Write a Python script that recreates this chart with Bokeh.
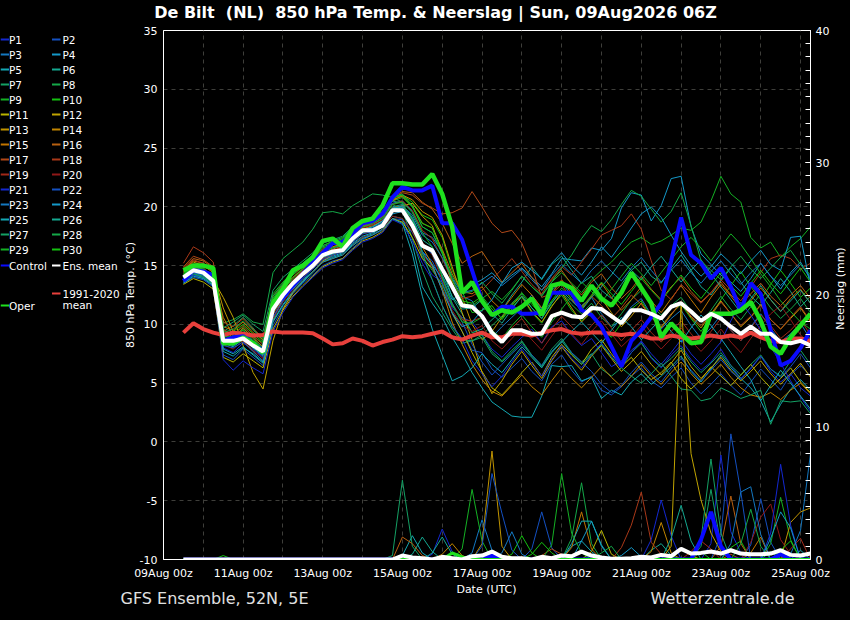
from math import pi
from bokeh.plotting import figure
from bokeh.models import Range1d, LinearAxis, FixedTicker, SingleIntervalTicker
from bokeh.layouts import column, row
from bokeh.core.properties import value
from bokeh.embed import file_html
from bokeh.resources import INLINE

# ---------------- data ----------------
# lead time in hours after 09Aug 00z (6-hourly)
hours = [12, 18, 24, 30, 36, 42, 48, 54, 60, 66, 72, 78, 84, 90, 96, 102,
         108, 114, 120, 126, 132, 138, 144, 150, 156, 162, 168, 174, 180, 186, 192, 198,
         204, 210, 216, 222, 228, 234, 240, 246, 252, 258, 264, 270, 276, 282, 288, 294,
         300, 306, 312, 318, 324, 330, 336, 342, 348, 354, 360, 366, 372, 378, 384, 390]

tick_hours = [0, 48, 96, 144, 192, 240, 288, 336, 384]
tick_labels = ["09Aug 00z", "11Aug 00z", "13Aug 00z", "15Aug 00z", "17Aug 00z",
               "19Aug 00z", "21Aug 00z", "23Aug 00z", "25Aug 00z"]
day_hours = [0, 24, 48, 72, 96, 120, 144, 168, 192, 216, 240, 264, 288, 312, 336, 360, 384]
temp_ticks = [-10, -5, 0, 5, 10, 15, 20, 25, 30, 35]
temp_tick_labels = ["-10", "-5", "0", "5", "10", "15", "20", "25", "30", "35"]

# 850 hPa temperature (deg C)
control_t = [13.7, 14.6, 14.5, 14.2, 8.6, 8.9, 9.0, 8.3, 7.8, 11.5, 12.3, 13.3, 14.3, 15.3, 16.1, 16.9,
             17.0, 17.7, 18.6, 18.8, 19.4, 20.8, 21.7, 21.4, 21.4, 21.8, 18.6, 18.6, 17.2, 14.6, 12.0, 10.8,
             11.5, 11.5, 10.9, 10.9, 11.0, 12.7, 12.7, 12.7, 11.2, 10.8, 9.8, 8.1, 6.4, 8.6, 9.5, 10.6,
             11.8, 15.4, 19.1, 15.9, 15.2, 13.9, 14.8, 13.2, 11.2, 13.5, 12.6, 9.5, 6.5, 6.9, 8.0, 9.5]
oper_t = [14.6, 15.0, 15.0, 14.8, 8.4, 8.4, 8.9, 8.4, 7.6, 11.8, 13.0, 14.6, 15.0, 15.7, 17.1, 17.3,
          16.6, 18.2, 18.8, 19.0, 20.1, 22.0, 22.0, 21.9, 21.9, 22.8, 21.1, 18.3, 12.7, 13.6, 12.0, 10.8,
          11.2, 11.0, 11.5, 12.2, 10.8, 13.3, 13.5, 13.1, 12.0, 13.3, 12.2, 11.6, 12.7, 14.4, 13.1, 11.8,
          8.9, 10.1, 9.2, 8.4, 8.5, 10.9, 10.9, 10.9, 11.2, 11.9, 10.3, 8.1, 7.5, 8.9, 9.9, 10.9]
ensmean_t = [14.0, 14.6, 14.4, 13.7, 8.6, 8.6, 8.8, 8.2, 7.7, 11.3, 12.5, 13.5, 14.3, 15.0, 15.9, 16.2,
             16.3, 17.3, 18.0, 18.0, 18.4, 19.7, 19.7, 18.4, 16.7, 16.3, 14.7, 13.2, 11.6, 11.5, 10.7, 9.3,
             8.5, 9.5, 9.5, 9.2, 9.2, 10.7, 11.0, 10.7, 10.6, 11.4, 11.3, 10.7, 10.1, 11.2, 11.2, 10.9,
             10.5, 11.5, 11.8, 11.1, 10.3, 10.9, 10.5, 9.8, 9.2, 9.8, 9.2, 9.2, 8.5, 8.4, 8.6, 8.2]
clim_t = [9.3, 10.1, 9.6, 9.3, 9.1, 9.3, 9.2, 9.05, 9.1, 9.4, 9.3, 9.3, 9.3, 9.25, 8.8, 8.3,
          8.4, 8.8, 8.6, 8.2, 8.5, 8.7, 9.0, 8.9, 9.0, 9.2, 9.4, 8.9, 8.7, 9.05, 9.3, 8.9,
          8.9, 9.2, 9.2, 9.05, 9.3, 9.5, 9.6, 9.3, 9.2, 9.3, 9.3, 9.2, 9.1, 9.2, 9.05, 8.8,
          8.8, 9.05, 8.9, 8.8, 8.9, 9.05, 8.9, 9.05, 8.9, 9.3, 8.9, 8.6, 8.5, 8.8, 8.8, 8.6]

p01_t = [13.8, 14.4, 14.1, 13.5, 8.0, 7.6, 8.4, 7.9, 7.2, 10.6, 12.0, 13.1, 13.9, 14.8, 15.6, 16.0,
         16.4, 17.2, 17.9, 18.1, 18.6, 19.8, 19.9, 18.6, 15.6, 14.2, 13.6, 11.4, 10.6, 10.2, 9.1, 7.9,
         7.2, 8.1, 8.9, 9.6, 8.4, 9.8, 10.3, 9.1, 8.2, 8.8, 7.6, 6.4, 6.9, 7.8, 8.5, 7.1,
         6.3, 7.4, 8.2, 7.0, 6.1, 6.8, 7.9, 6.5, 5.4, 6.2, 7.3, 6.0, 5.1, 5.8, 4.6, 3.9]
p02_t = [13.5, 14.0, 13.8, 13.2, 7.4, 7.0, 7.9, 7.2, 6.5, 9.9, 11.4, 12.6, 13.5, 14.2, 15.0, 15.4,
         15.6, 16.5, 17.2, 17.6, 18.0, 19.0, 18.9, 17.8, 16.2, 15.4, 13.6, 10.9, 9.4, 7.8, 7.6, 6.2,
         5.5, 6.3, 7.1, 6.0, 5.2, 6.6, 7.4, 6.1, 5.1, 5.6, 4.4, 4.0, 4.7, 5.6, 6.3, 5.2,
         4.6, 5.5, 6.3, 5.0, 4.1, 4.9, 5.8, 4.8, 4.0, 5.1, 6.2, 5.3, 4.4, 5.7, 6.5, 5.6]
p03_t = [14.2, 14.9, 14.6, 13.9, 9.1, 8.7, 9.3, 8.6, 8.0, 11.6, 12.8, 13.7, 14.5, 15.3, 16.1, 16.5,
         16.8, 17.6, 18.3, 18.5, 19.0, 20.3, 20.5, 19.6, 17.8, 17.4, 16.2, 13.8, 12.4, 12.0, 10.6, 8.9,
         9.8, 10.6, 11.4, 12.5, 11.3, 12.9, 13.6, 12.4, 11.6, 12.3, 10.9, 9.8, 10.4, 11.5, 12.2, 10.8,
         9.6, 10.5, 11.2, 9.9, 8.8, 9.7, 10.8, 9.5, 8.6, 9.8, 10.9, 9.7, 8.5, 9.2, 10.1, 8.7]
p04_t = [13.6, 14.2, 14.0, 13.4, 8.4, 8.1, 8.7, 8.0, 7.3, 10.9, 12.1, 13.0, 13.8, 14.5, 15.4, 15.8,
         16.1, 16.9, 17.5, 17.8, 18.3, 19.4, 19.6, 18.2, 16.0, 15.1, 13.9, 12.1, 12.6, 13.4, 13.8, 14.4,
         13.5, 14.2, 14.8, 14.0, 13.2, 14.3, 15.6, 15.5, 15.4, 16.5, 16.3, 17.3, 19.9, 21.2, 21.0, 18.8,
         20.1, 22.4, 22.6, 18.3, 16.0, 15.1, 14.2, 13.6, 12.8, 13.9, 15.2, 14.1, 13.0, 14.4, 15.3, 13.8]
p05_t = [13.9, 14.5, 14.2, 13.6, 7.7, 7.3, 8.0, 7.5, 6.8, 10.2, 11.6, 12.7, 13.6, 14.4, 15.3, 15.7,
         16.0, 16.8, 17.4, 17.7, 18.3, 19.2, 19.0, 16.8, 13.2, 11.8, 10.6, 8.9, 7.5, 5.9, 4.6, 3.4,
         2.8, 2.2, 2.1, 2.1, 3.9, 6.5, 6.4, 6.5, 5.2, 5.5, 3.7, 4.4, 4.0, 5.1, 5.8, 4.9,
         5.6, 6.4, 7.3, 6.0, 5.1, 6.2, 7.4, 6.3, 5.4, 4.6, 3.5, 1.7, 3.2, 4.5, 5.3, 4.4]
p06_t = [14.1, 14.8, 14.5, 13.8, 8.9, 8.5, 9.1, 8.3, 7.7, 11.4, 12.7, 13.6, 14.4, 15.1, 15.9, 16.2,
         16.5, 17.4, 18.1, 18.3, 18.8, 20.0, 20.2, 19.1, 17.2, 16.6, 14.8, 12.3, 10.9, 9.3, 9.6, 10.4,
         11.2, 12.5, 13.6, 14.9, 13.8, 15.1, 15.8, 14.6, 13.5, 14.1, 12.9, 12.2, 13.4, 14.6, 15.3, 14.1,
         13.5, 14.8, 15.9, 14.6, 13.2, 12.5, 13.7, 14.8, 13.6, 12.4, 11.6, 12.7, 13.9, 12.8, 11.5, 12.4]
p07_t = [13.7, 14.3, 14.1, 13.5, 9.4, 9.9, 10.6, 9.7, 8.6, 12.2, 13.4, 14.3, 15.1, 15.8, 16.6, 16.9,
         17.2, 18.1, 18.7, 18.9, 19.3, 20.2, 19.7, 17.3, 14.6, 12.4, 11.0, 9.6, 8.4, 8.6, 9.1, 7.7,
         6.9, 7.8, 8.6, 7.4, 6.5, 7.9, 8.8, 7.6, 6.8, 7.5, 6.2, 5.6, 6.3, 7.6, 8.4, 7.2,
         6.4, 7.1, 8.0, 6.8, 5.9, 6.7, 7.6, 6.5, 5.7, 6.6, 7.4, 6.2, 5.6, 6.9, 7.8, 6.6]
p08_t = [14.4, 15.1, 14.9, 14.6, 10.1, 10.4, 10.9, 10.2, 10.0, 14.4, 15.6, 16.3, 17.0, 18.1, 19.5, 19.6,
         19.4, 20.1, 20.6, 21.1, 21.0, 20.8, 20.4, 18.2, 15.8, 14.6, 13.4, 11.6, 10.5, 9.3, 9.1, 9.9,
         10.7, 11.8, 12.6, 11.4, 10.5, 11.9, 12.8, 11.7, 10.9, 11.8, 10.6, 9.8, 10.9, 12.1, 12.9, 11.6,
         10.8, 11.6, 12.3, 11.1, 10.2, 11.2, 12.4, 11.3, 10.4, 11.5, 12.6, 11.4, 10.5, 11.3, 12.2, 11.0]
p09_t = [13.9, 14.6, 14.3, 13.7, 8.7, 8.8, 9.6, 8.9, 8.1, 11.8, 13.0, 14.0, 14.8, 15.6, 16.3, 16.6,
         16.8, 17.7, 18.4, 18.7, 19.1, 20.5, 20.8, 20.0, 18.3, 17.8, 16.1, 13.4, 11.8, 11.6, 12.2, 12.8,
         12.1, 13.0, 14.1, 13.2, 12.5, 13.6, 14.4, 13.5, 12.7, 13.8, 14.6, 15.3, 16.2, 17.0, 17.4, 16.8,
         17.1, 17.6, 18.2, 18.0, 18.7, 20.5, 22.6, 21.1, 20.4, 17.4, 16.5, 17.0, 15.7, 16.6, 17.3, 18.3]
p10_t = [14.3, 14.9, 14.8, 14.1, 9.0, 9.2, 9.8, 9.0, 8.4, 12.6, 13.6, 14.5, 15.2, 15.9, 16.7, 17.0,
         17.3, 18.2, 18.8, 19.0, 19.5, 20.8, 21.0, 20.4, 19.3, 18.9, 17.4, 14.6, 12.8, 11.0, 11.2, 11.6,
         10.4, 11.5, 12.3, 11.0, 10.1, 11.6, 12.5, 11.2, 10.3, 11.0, 9.6, 8.9, 10.1, 11.3, 12.0, 10.7,
         9.8, 10.9, 11.7, 10.5, 9.4, 10.6, 12.1, 13.3, 14.5, 13.2, 12.1, 13.4, 14.6, 13.5, 12.3, 13.1]
p11_t = [13.4, 13.9, 13.6, 13.0, 7.2, 6.8, 7.5, 6.9, 6.3, 9.6, 11.2, 12.4, 13.3, 14.1, 14.9, 15.3,
         15.6, 16.4, 17.1, 17.4, 17.9, 19.0, 18.7, 17.4, 15.6, 14.8, 13.1, 11.0, 9.4, 7.6, 6.0, 4.6,
         4.0, 4.9, 5.9, 6.8, 5.6, 7.2, 8.3, 7.4, 6.6, 7.9, 8.7, 7.5, 6.4, 7.2, 6.1, 5.3,
         5.9, 6.8, 5.4, 4.5, 5.3, 6.4, 5.6, 4.8, 5.7, 6.6, 5.5, 4.6, 5.4, 6.3, 5.1, 4.2]
p12_t = [14.0, 14.6, 14.3, 13.8, 12.3, 10.6, 8.2, 5.9, 4.5, 8.6, 11.3, 12.7, 13.7, 14.5, 15.4, 15.9,
         16.3, 17.1, 17.8, 18.0, 18.5, 19.7, 20.1, 20.3, 19.2, 18.4, 16.2, 13.5, 11.0, 8.7, 5.9, 4.1,
         5.2, 6.6, 7.7, 6.5, 5.4, 6.9, 8.1, 7.0, 6.1, 7.3, 8.2, 7.1, 6.0, 6.8, 7.7, 6.6,
         5.7, 6.7, 7.8, 6.4, 5.4, 6.3, 7.2, 6.1, 5.2, 6.0, 6.9, 5.8, 4.9, 5.8, 6.7, 5.5]
p13_t = [14.5, 15.3, 15.0, 14.4, 11.4, 9.4, 8.6, 7.7, 6.9, 10.4, 12.2, 13.4, 14.2, 15.0, 15.8, 16.2,
         16.6, 17.5, 18.3, 18.6, 19.2, 20.5, 21.0, 20.6, 19.6, 19.1, 17.6, 14.9, 12.3, 10.0, 8.7, 9.4,
         10.6, 11.7, 12.4, 11.1, 10.2, 11.5, 12.7, 11.4, 10.2, 11.1, 12.2, 11.0, 9.8, 10.7, 11.8, 10.6,
         9.7, 10.8, 11.9, 10.6, 9.7, 10.9, 12.0, 10.9, 9.8, 10.6, 11.7, 10.4, 9.6, 10.5, 11.4, 10.2]
p14_t = [14.2, 14.8, 14.6, 14.0, 10.6, 9.0, 8.9, 8.4, 7.6, 11.0, 12.6, 13.6, 14.3, 15.1, 15.9, 16.3,
         16.5, 17.4, 18.1, 18.4, 18.8, 19.9, 20.1, 18.9, 16.6, 15.1, 12.9, 10.2, 8.3, 6.6, 5.3, 4.3,
         3.9, 4.8, 5.7, 4.7, 4.0, 5.2, 6.3, 5.4, 4.6, 5.5, 6.4, 5.5, 4.7, 5.6, 6.6, 5.6,
         4.9, 5.9, 6.8, 5.8, 4.9, 5.7, 6.6, 5.5, 4.6, 4.0, 3.8, 4.2, 3.6, 4.4, 5.0, 4.1]
p15_t = [14.6, 15.4, 15.2, 14.5, 9.8, 9.5, 10.2, 9.3, 8.7, 12.0, 13.1, 14.0, 14.7, 15.5, 16.3, 16.6,
         16.9, 17.8, 18.5, 18.8, 19.4, 20.6, 20.9, 20.1, 18.6, 18.2, 16.4, 14.3, 12.8, 12.6, 13.2, 12.0,
         11.2, 12.3, 13.4, 12.5, 11.4, 12.6, 13.8, 12.6, 11.5, 12.4, 13.5, 12.3, 11.2, 12.1, 13.2, 12.0,
         11.0, 12.2, 13.3, 12.1, 11.0, 12.3, 13.4, 12.4, 11.3, 12.0, 13.1, 12.1, 11.1, 12.2, 13.0, 11.8]
p16_t = [14.8, 15.6, 15.4, 14.8, 9.5, 8.9, 9.7, 8.8, 8.1, 11.5, 12.8, 13.7, 14.5, 15.3, 16.0, 16.4,
         16.7, 17.6, 18.4, 18.7, 19.2, 20.8, 21.3, 21.2, 20.4, 19.8, 18.6, 16.9, 15.2, 15.8, 16.2, 14.9,
         13.6, 14.4, 15.2, 14.0, 12.9, 13.8, 14.6, 13.4, 12.5, 13.6, 14.3, 13.1, 12.2, 13.0, 14.1, 13.0,
         12.1, 13.2, 14.0, 12.8, 11.9, 12.7, 13.6, 12.5, 11.7, 12.6, 13.5, 12.4, 11.6, 12.5, 13.3, 12.2]
p17_t = [14.9, 15.8, 15.5, 14.9, 10.2, 9.8, 10.5, 9.6, 8.9, 12.4, 13.4, 14.2, 14.9, 15.7, 16.4, 16.8,
         17.1, 18.0, 18.7, 19.0, 19.6, 20.7, 21.2, 21.0, 20.3, 19.9, 19.4, 19.5, 19.9, 21.3, 20.0, 18.6,
         17.8, 18.0, 16.9, 14.9, 12.3, 12.6, 13.4, 12.1, 11.3, 12.4, 11.6, 10.5, 11.4, 12.5, 11.7, 10.6,
         9.8, 10.9, 11.8, 10.7, 9.9, 10.8, 11.9, 10.9, 9.9, 10.7, 11.6, 10.4, 9.6, 10.6, 11.5, 10.3]
p18_t = [15.2, 16.6, 16.1, 15.3, 9.6, 9.1, 9.9, 9.0, 8.3, 11.8, 13.0, 13.8, 14.6, 15.3, 16.0, 16.3,
         16.6, 17.5, 18.2, 18.5, 18.9, 20.2, 20.5, 19.7, 18.0, 17.3, 15.6, 13.7, 12.2, 12.4, 12.9, 13.8,
         14.7, 15.6, 14.5, 13.4, 12.6, 13.9, 14.9, 14.2, 15.3, 16.4, 17.6, 18.0, 18.4, 19.4, 18.1, 15.4,
         12.9, 12.1, 13.4, 12.6, 11.8, 12.7, 13.8, 12.9, 12.0, 13.2, 14.4, 15.6, 15.9, 15.6, 14.7, 15.2]
p19_t = [14.7, 15.5, 15.2, 14.6, 8.8, 8.3, 9.0, 8.2, 7.5, 10.8, 12.3, 13.3, 14.1, 14.8, 15.6, 15.9,
         16.2, 17.0, 17.7, 17.9, 18.4, 19.6, 19.8, 18.8, 17.0, 15.9, 13.8, 11.8, 10.4, 10.3, 10.6, 9.2,
         8.6, 9.7, 10.5, 9.3, 8.4, 9.6, 10.7, 9.8, 8.9, 9.9, 10.8, 9.7, 8.6, 9.5, 10.4, 9.3,
         8.5, 9.4, 10.3, 9.2, 8.3, 9.4, 10.5, 9.5, 8.6, 9.7, 10.8, 9.9, 8.8, 9.5, 10.4, 9.1]
p20_t = [14.4, 15.1, 14.8, 14.1, 8.3, 7.9, 8.6, 7.8, 7.1, 10.5, 11.9, 12.9, 13.7, 14.5, 15.3, 15.6,
         15.9, 16.7, 17.4, 17.6, 18.1, 19.2, 19.0, 17.9, 16.0, 14.9, 13.0, 11.2, 9.9, 9.4, 9.9, 8.6,
         7.9, 8.8, 9.7, 8.7, 7.8, 9.0, 10.1, 9.2, 8.3, 9.4, 10.3, 9.2, 8.1, 8.9, 9.9, 8.8,
         7.9, 8.8, 9.7, 8.6, 7.7, 8.6, 9.6, 8.5, 7.6, 8.8, 9.9, 10.9, 11.6, 10.4, 9.1, 8.3]
p21_t = [13.6, 14.2, 13.9, 13.3, 7.0, 6.1, 6.9, 6.3, 5.8, 9.4, 11.0, 12.3, 13.2, 14.0, 14.8, 15.2,
         15.5, 16.3, 17.0, 17.3, 17.8, 18.9, 18.5, 17.1, 15.2, 13.8, 11.6, 9.9, 8.8, 6.9, 5.8, 4.7,
         5.6, 6.8, 7.9, 6.7, 5.6, 7.0, 8.2, 7.1, 6.3, 7.4, 8.4, 7.3, 6.5, 7.6, 8.6, 7.5,
         6.6, 7.6, 8.7, 7.5, 6.6, 7.5, 8.5, 10.3, 11.9, 10.8, 9.5, 8.1, 6.7, 5.2, 3.8, 2.6]
p22_t = [14.0, 14.7, 14.4, 13.8, 8.2, 8.0, 8.5, 7.7, 6.9, 10.6, 12.0, 13.1, 13.9, 14.7, 15.5, 15.9,
         16.2, 17.0, 17.7, 17.9, 18.4, 19.6, 19.7, 18.5, 16.7, 16.0, 14.1, 11.8, 10.2, 8.3, 6.8, 5.7,
         6.6, 7.5, 8.3, 7.4, 6.5, 7.7, 8.6, 7.6, 6.8, 6.0, 4.9, 4.2, 4.8, 5.9, 6.8, 5.8,
         5.1, 6.2, 7.1, 6.1, 5.2, 6.1, 7.0, 6.0, 5.3, 6.3, 7.3, 6.2, 5.5, 6.4, 7.5, 6.3]
p23_t = [13.8, 14.4, 14.2, 13.6, 8.6, 8.3, 8.9, 8.2, 7.5, 11.1, 12.4, 13.4, 14.2, 15.0, 15.8, 16.1,
         16.4, 17.3, 18.0, 18.2, 18.7, 19.8, 20.1, 19.3, 17.6, 17.0, 15.7, 13.9, 12.7, 12.9, 13.5, 14.1,
         13.3, 14.0, 14.7, 13.8, 12.9, 14.2, 15.1, 14.3, 13.5, 14.6, 15.4, 14.5, 13.7, 14.8, 15.7, 14.6,
         13.6, 14.6, 15.5, 14.4, 13.5, 14.5, 15.4, 14.3, 13.4, 14.4, 15.2, 14.1, 13.3, 14.2, 15.1, 14.0]
p24_t = [14.1, 14.7, 14.5, 13.9, 8.8, 8.6, 9.2, 8.5, 7.8, 11.3, 12.6, 13.5, 14.3, 15.1, 15.8, 16.2,
         16.5, 17.3, 18.0, 18.3, 18.8, 19.9, 20.0, 18.7, 16.2, 15.0, 12.9, 11.0, 9.8, 10.2, 11.2, 12.1,
         13.5, 14.8, 15.3, 14.6, 13.9, 15.2, 16.1, 15.0, 14.2, 15.3, 16.6, 15.7, 16.9, 18.2, 19.4, 20.0,
         19.1, 17.6, 16.2, 15.0, 14.1, 14.9, 16.0, 15.2, 14.3, 15.4, 16.3, 15.1, 14.6, 17.4, 17.5, 13.2]
p25_t = [13.5, 14.1, 13.9, 13.3, 7.9, 7.5, 8.1, 7.4, 6.7, 10.3, 11.7, 12.8, 13.7, 14.5, 15.3, 15.6,
         15.9, 16.7, 17.3, 17.6, 18.1, 19.0, 18.6, 16.0, 12.4, 9.6, 7.4, 5.2, 5.6, 6.3, 7.5, 6.6,
         5.9, 7.0, 8.1, 7.2, 6.3, 7.6, 8.5, 9.4, 10.2, 9.3, 8.4, 9.5, 10.6, 9.8, 8.7, 9.6,
         10.5, 9.4, 8.5, 9.7, 10.8, 9.9, 8.8, 7.6, 6.4, 5.3, 3.5, 4.8, 6.1, 5.0, 3.9, 2.8]
p26_t = [14.0, 14.7, 14.4, 13.7, 8.5, 8.2, 8.8, 8.0, 7.4, 11.0, 12.4, 13.4, 14.2, 14.9, 15.7, 16.0,
         16.3, 17.1, 17.8, 18.1, 18.6, 19.8, 20.0, 19.0, 16.9, 16.1, 14.2, 12.4, 11.3, 11.4, 12.1, 10.9,
         10.1, 11.3, 12.4, 11.4, 10.5, 11.8, 12.9, 12.0, 11.2, 12.3, 13.2, 14.2, 15.4, 14.6, 13.8, 14.9,
         15.8, 14.7, 13.6, 14.6, 15.5, 14.3, 13.2, 12.1, 11.0, 12.2, 13.3, 12.1, 11.1, 12.0, 12.9, 11.8]
p27_t = [13.7, 14.3, 14.0, 13.4, 9.7, 10.2, 10.8, 10.0, 9.4, 12.9, 14.0, 14.7, 15.4, 16.1, 16.9, 17.2,
         17.5, 18.3, 18.9, 19.1, 19.5, 20.5, 20.3, 18.9, 16.1, 13.8, 11.6, 9.8, 8.7, 8.6, 8.9, 7.5,
         6.8, 7.6, 8.5, 7.3, 6.4, 7.6, 8.6, 7.5, 6.6, 7.4, 8.3, 7.2, 6.3, 5.6, 5.0, 5.8,
         6.7, 5.6, 4.5, 4.4, 3.5, 3.7, 4.6, 4.2, 3.7, 4.0, 4.4, 1.5, 3.5, 3.4, 3.5, 2.4]
p28_t = [14.2, 14.9, 14.7, 14.2, 9.3, 9.6, 10.3, 9.5, 8.8, 12.4, 13.5, 14.4, 15.2, 15.9, 16.7, 17.1,
         17.4, 18.2, 18.8, 19.1, 19.6, 20.8, 21.1, 20.1, 18.3, 17.8, 16.0, 14.1, 12.6, 12.8, 13.6, 12.6,
         11.8, 12.9, 14.1, 13.2, 12.4, 13.6, 14.8, 15.9, 17.3, 18.4, 17.9, 18.9, 20.2, 21.4, 20.9, 19.8,
         18.7, 19.6, 21.2, 18.4, 15.4, 14.6, 13.8, 14.9, 15.8, 14.7, 13.9, 14.8, 15.7, 16.3, 15.1, 14.2]
p29_t = [14.1, 14.8, 14.5, 13.9, 8.9, 9.0, 9.5, 8.7, 8.0, 11.7, 12.9, 13.9, 14.7, 15.4, 16.2, 16.5,
         16.7, 17.6, 18.3, 18.6, 19.0, 20.2, 20.4, 19.5, 17.8, 16.6, 14.0, 11.7, 10.2, 10.1, 10.6, 9.5,
         8.8, 9.9, 10.8, 9.8, 8.9, 10.2, 11.3, 12.4, 13.6, 12.8, 11.9, 13.0, 14.1, 15.2, 14.3, 13.3,
         14.4, 15.5, 16.6, 17.4, 16.5, 15.4, 16.6, 17.7, 16.8, 15.6, 14.3, 13.2, 12.0, 11.1, 10.2, 9.6]
p30_t = [14.3, 15.0, 14.7, 14.0, 9.2, 9.4, 10.0, 9.2, 8.5, 12.2, 13.3, 14.2, 15.0, 15.7, 16.5, 16.8,
         17.0, 17.9, 18.6, 18.9, 19.3, 20.7, 21.0, 20.0, 18.6, 18.2, 16.2, 13.8, 12.0, 11.8, 12.4, 11.3,
         10.5, 11.6, 12.7, 11.7, 10.8, 12.0, 13.1, 12.2, 11.4, 12.5, 13.6, 12.6, 11.7, 12.8, 13.9, 12.9,
         12.0, 13.1, 14.2, 13.1, 12.2, 13.3, 14.4, 13.3, 12.4, 13.5, 14.6, 13.5, 12.6, 13.7, 14.8, 13.6]

# precipitation (mm per 6 h)
control_rr = [0, 0, 0, 0, 0, 0, 0, 0, 0, 0, 0, 0, 0, 0, 0, 0,
              0, 0, 0, 0, 0, 0, 0, 0, 0, 0, 0, 0, 0, 0, 0, 0.3,
              0, 0, 0, 0, 0, 0, 0, 0, 0, 0, 0, 0, 0, 0, 0, 0,
              0, 0, 0, 0, 1.5, 3.6, 1.0, 0, 0, 0, 0, 0, 0.4, 0, 0, 0]
oper_rr = [0, 0, 0, 0, 0, 0, 0, 0, 0, 0, 0, 0, 0, 0, 0, 0,
           0, 0, 0, 0, 0, 0, 0, 0, 0, 0, 0, 0.5, 0.2, 0, 0, 0,
           0, 0, 0, 0, 0, 0, 0, 0, 0, 0, 0, 0, 0, 0, 0, 0,
           0, 0, 0, 0, 0, 0, 0, 0, 0, 0, 0, 0, 0, 0, 0, 0]
ensmean_rr = [0, 0, 0, 0, 0, 0, 0, 0, 0, 0, 0, 0, 0, 0, 0, 0,
              0, 0, 0, 0, 0, 0, 0.3, 0.15, 0.1, 0, 0.2, 0.1, 0, 0.25, 0.3, 0.6,
              0.2, 0.1, 0.1, 0, 0.2, 0.1, 0.3, 0.25, 0.6, 0.3, 0.15, 0.05, 0.05, 0.1, 0.2, 0.15,
              0.35, 0.25, 0.8, 0.45, 0.5, 0.6, 0.45, 0.7, 0.45, 0.4, 0.4, 0.45, 0.7, 0.35, 0.3, 0.45]

p01_rr = [0, 0, 0, 0, 0, 0, 0, 0, 0, 0, 0, 0, 0, 0, 0, 0,
          0, 0, 0, 0, 0, 0, 0, 0, 0, 0.4, 2.3, 0.6, 0, 0, 0, 0,
          0, 0, 0, 0, 0, 0, 0, 0, 0, 0.3, 0, 0, 0, 0, 0, 0,
          0, 0, 0, 0, 0, 1.2, 7.9, 2.1, 0.5, 0, 0, 0, 0, 0, 0, 0]
p02_rr = [0, 0, 0, 0, 0, 0, 0, 0, 0, 0, 0, 0, 0, 0, 0, 0,
          0, 0, 0, 0, 0, 0, 0, 0, 0, 0, 0, 0, 0, 0, 0, 0,
          0, 0, 0, 0.8, 3.6, 0.9, 0, 0, 0, 0, 0, 0, 0, 0, 0, 0,
          0, 0, 0, 0, 0, 0, 0, 0, 0, 1.1, 4.6, 1.3, 0, 0, 0, 0]
p03_rr = [0, 0, 0, 0, 0, 0, 0, 0, 0, 0, 0, 0, 0, 0, 0, 0,
          0, 0, 0, 0, 0, 0, 0, 0, 0, 0, 0, 0, 0, 0.5, 3.0, 0.7,
          0, 0, 0, 0, 0, 0, 0, 0, 0, 0, 0, 0, 0, 0, 0, 0,
          0, 0, 0, 0, 0, 0, 0, 0, 0, 0, 0, 0, 0, 0.4, 2.2, 8.0]
p04_rr = [0, 0, 0, 0, 0, 0, 0, 0, 0, 0, 0, 0, 0, 0, 0, 0,
          0, 0, 0, 0, 0, 0, 0, 0, 0, 0, 0, 0, 0, 0, 0, 0,
          0, 0, 0, 0, 0, 0, 0, 0, 0, 0, 0, 0, 0.3, 0.9, 0.2, 0,
          0, 0, 0, 0, 0, 0, 0, 0, 0, 0, 0, 0, 0.5, 0, 0, 0]
p05_rr = [0, 0, 0, 0, 0, 0, 0, 0, 0, 0, 0, 0, 0, 0, 0, 0,
          0, 0, 0, 0, 0, 0, 0.3, 1.8, 0.5, 0, 0, 0, 0, 0, 0, 0,
          0, 0, 0, 0, 0, 0, 0, 1.0, 1.4, 0.6, 0, 0, 0, 0, 0, 0,
          0, 0, 0, 0, 0, 0, 0, 0, 0, 0, 0, 0, 0, 0, 0, 0]
p06_rr = [0, 0, 0, 0, 0, 0, 0, 0, 0, 0, 0, 0, 0, 0, 0, 0,
          0, 0, 0, 0, 0, 0, 0, 0.4, 1.7, 0.6, 0, 0, 0, 0, 0, 0,
          0, 0, 0, 0, 0, 0, 0, 0, 0, 0, 0, 0, 0, 0, 0, 0.7,
          1.2, 0.3, 0, 0, 0, 0, 0, 0, 0, 0, 0, 0, 0, 0, 0, 0]
p07_rr = [0, 0, 0, 0, 0, 0, 0, 0, 0, 0, 0, 0, 0, 0, 0, 0,
          0, 0, 0, 0, 0, 0.3, 6.0, 1.0, 0, 0, 0, 0, 0, 0, 0, 0,
          0, 0, 0, 0, 0, 0, 0, 0, 0, 0, 0, 0, 0, 0, 0, 0,
          0, 0, 0, 0, 1.0, 5.3, 1.1, 0, 0, 0, 0, 0, 0, 0, 0, 0]
p08_rr = [0, 0, 0, 0, 0, 0, 0, 0, 0, 0, 0, 0, 0, 0, 0, 0,
          0, 0, 0, 0, 0, 0, 0, 0, 0, 0, 0, 0, 0, 0, 0, 0,
          0, 0, 0, 0, 0, 0, 0, 1.6, 5.8, 1.2, 0, 0, 0, 0, 0, 0,
          0, 0, 0, 0, 0, 0, 0, 0, 0, 0, 0, 0.6, 0, 0, 0, 0]
p09_rr = [0, 0, 0, 0, 0, 0, 0, 0, 0, 0, 0, 0, 0, 0, 0, 0,
          0, 0, 0, 0, 0, 0, 0, 0, 0, 0, 0, 0, 0.8, 5.3, 1.4, 0,
          0, 0, 0, 0, 0, 0, 0, 0, 0, 0, 0, 0, 0, 0, 0, 0,
          0, 0, 0, 0, 0, 0, 0, 0, 0, 0, 0, 1.2, 4.7, 1.5, 0, 0]
p10_rr = [0, 0, 0, 0, 0, 0, 0, 0, 0, 0, 0, 0, 0, 0, 0, 0,
          0, 0, 0, 0, 0, 0, 0, 0, 0, 0, 0, 0, 0, 0, 0, 0,
          0, 0.4, 1.8, 0.5, 0, 0, 0, 0, 0, 0, 0, 0, 0, 0, 0, 0,
          0, 0, 0, 0, 0, 0, 0, 0.9, 1.4, 0, 0, 0, 0, 0, 0, 0]
p11_rr = [0, 0, 0, 0, 0, 0, 0, 0, 0, 0, 0, 0, 0, 0, 0, 0,
          0, 0, 0, 0, 0, 0, 0, 0, 0, 0, 0, 0, 0, 0, 0, 0,
          0, 0, 0, 0, 0, 0, 0, 0, 0, 0.6, 2.2, 0.4, 0, 0, 0, 0,
          0, 0, 0.8, 0.3, 0, 0, 0, 0, 0, 0, 0, 0, 0, 0, 0, 0]
p12_rr = [0, 0, 0, 0, 0, 0, 0, 0, 0, 0, 0, 0, 0, 0, 0, 0,
          0, 0, 0, 0, 0, 0, 0, 0, 0, 0, 0, 0, 0, 0, 0, 0,
          0, 0, 0, 0, 0, 0, 0, 0, 0, 0, 0, 0, 0, 0, 0, 0,
          0, 1.0, 19.5, 8.0, 4.5, 2.0, 0.6, 0, 0, 0, 0, 0, 0, 0, 0, 0]
p13_rr = [0, 0, 0, 0, 0, 0, 0, 0, 0, 0, 0, 0, 0, 0, 0, 0,
          0, 0, 0, 0, 0, 0, 0, 0, 0, 0, 0, 0, 0, 0, 1.2, 8.2,
          1.0, 0, 0, 0, 0, 0, 0, 0, 0, 0, 0, 0, 0, 0, 0, 0,
          0, 0, 0, 0, 0, 0, 0, 0, 0, 0, 0, 0, 0, 2.8, 3.6, 3.9]
p14_rr = [0, 0, 0, 0, 0, 0, 0, 0, 0, 0, 0, 0, 0, 0, 0, 0,
          0, 0, 0, 0, 0, 0, 0, 0, 0, 0, 0.4, 1.2, 0.3, 0, 0, 0,
          0, 0, 0, 0, 0, 0, 0, 0, 0, 0, 0, 0, 0, 0, 0, 0.6,
          2.8, 0.5, 0, 0, 0, 0, 0, 0, 0, 0, 0, 0, 0, 0, 0, 0]
p15_rr = [0, 0, 0, 0, 0, 0, 0, 0, 0, 0, 0, 0, 0, 0, 0, 0,
          0, 0, 0, 0, 0, 0, 0, 0, 0, 0, 0, 0, 0, 0, 0, 0,
          0, 0, 0, 0, 0, 0, 0, 0.9, 3.6, 0.8, 0, 0, 0, 0, 0, 0,
          0, 0, 0, 0, 0, 0, 0, 0, 0, 0.5, 1.7, 0, 0, 0, 0, 0]
p16_rr = [0, 0, 0, 0, 0, 0, 0, 0, 0, 0, 0, 0, 0, 0, 0, 0,
          0, 0, 0, 0, 0, 0, 1.7, 1.2, 0.3, 0, 0, 0, 0, 0, 0, 0,
          0, 0, 0, 0, 0, 0, 0, 0, 0, 0, 0, 0, 0, 0, 0, 0,
          0, 0, 0, 0, 0, 0, 1.0, 4.8, 1.2, 0, 0, 0, 0, 0, 0, 0]
p17_rr = [0, 0, 0, 0, 0, 0, 0, 0, 0, 0, 0, 0, 0, 0, 0, 0,
          0, 0, 0, 0, 0, 0, 0, 0, 0, 0, 0, 0, 0, 0, 0, 0,
          0, 0, 0, 0, 0.3, 0.8, 0.4, 0, 0, 0, 0, 0, 0, 0, 0, 0,
          0, 0, 0, 0, 0, 0, 0, 0.4, 0, 0, 0, 0, 0, 0, 0, 0]
p18_rr = [0, 0, 0, 0, 0, 0, 0, 0, 0, 0, 0, 0, 0, 0, 0, 0,
          0, 0, 0, 0, 0, 0, 0, 0, 0, 0, 0, 0, 0, 0, 0, 0,
          0, 0, 0, 0, 0, 0, 0, 0, 0, 0, 0, 0, 0.9, 2.6, 5.1, 1.3,
          0.4, 0, 0, 0, 0, 0, 0, 0, 0, 0, 0, 0, 0, 0, 0, 0]
p19_rr = [0, 0, 0, 0, 0, 0, 0, 0, 0, 0, 0, 0, 0, 0, 0, 0,
          0, 0, 0, 0, 0, 0, 0, 0, 0, 0, 0, 0, 0, 0, 0, 0,
          0, 0, 0, 0, 0, 0, 0, 0, 0, 0, 0, 0, 0, 0, 0, 0,
          0, 0, 0, 0.6, 1.4, 0.8, 0, 0, 0, 0, 0, 0, 0, 0.8, 1.6, 0]
p20_rr = [0, 0, 0, 0, 0, 0, 0, 0, 0, 0, 0, 0, 0, 0, 0, 0,
          0, 0, 0, 0, 0, 0, 0, 0, 0, 0, 0, 0, 0, 0, 0, 0,
          0, 0, 0, 0, 0, 0, 0, 0, 0, 0, 0, 0, 0, 0, 0, 0,
          0, 0, 0, 0, 0, 0, 0, 0, 0, 1.3, 3.2, 4.2, 1.5, 0.4, 0, 0]
p21_rr = [0, 0, 0, 0, 0, 0, 0, 0, 0, 0, 0, 0, 0, 0, 0, 0,
          0, 0, 0, 0, 0, 0, 0, 0, 0, 0, 0, 0, 0, 0, 0, 0,
          0, 0, 0, 0, 0, 0, 0, 0, 0, 0, 0, 0, 0, 0, 0, 1.5,
          4.5, 1.8, 0, 0, 0, 0, 0, 0, 0, 0, 0, 2.0, 7.2, 2.6, 0, 0]
p22_rr = [0, 0, 0, 0, 0, 0, 0, 0, 0, 0, 0, 0, 0, 0, 0, 0,
          0, 0, 0, 0, 0, 0, 0, 0, 0, 0, 0, 0, 0, 0, 1.0, 6.5,
          3.5, 0.7, 0, 0, 0, 0, 0, 0, 0, 0, 0, 0, 0, 0, 0, 0,
          0, 0, 0, 0, 0, 0, 1.8, 9.5, 5.1, 0, 0, 0, 0, 0, 0, 0]
p23_rr = [0, 0, 0, 0, 0, 0, 0, 0, 0, 0, 0, 0, 0, 0, 0, 0,
          0, 0, 0, 0, 0, 0, 0, 0, 0, 0, 0, 0, 0, 0, 0, 0,
          0.5, 2.1, 0.4, 0, 0, 0, 0, 0, 0, 0, 0, 0, 0, 0, 0, 0,
          0, 0, 0, 0, 0, 0, 0, 1.2, 5.1, 5.5, 1.9, 0, 0, 0, 0, 0]
p24_rr = [0, 0, 0, 0, 0, 0, 0, 0, 0, 0, 0, 0, 0, 0, 0, 0,
          0, 0, 0, 0, 0, 0, 0, 0, 0, 0, 0, 0, 0, 0, 0, 0,
          0, 0, 0, 0, 0, 0, 0, 0, 1.4, 2.9, 1.0, 0, 0, 0, 0, 0,
          0, 0, 0, 0, 0, 0, 0, 0, 0, 0, 0, 1.6, 3.6, 2.4, 0, 0]
p25_rr = [0, 0, 0, 0, 0, 0, 0, 0, 0, 0, 0, 0, 0, 0, 0, 0,
          0, 0, 0, 0, 0, 0, 0, 0, 0, 0, 0, 0, 0, 0, 0, 0,
          0, 0, 0, 0, 0, 0, 0, 1.2, 2.9, 2.9, 1.1, 0, 0, 0, 0, 0,
          0, 0, 0, 0, 0, 0, 0, 0, 0, 0, 0, 0, 0, 0, 0.7, 0]
p26_rr = [0, 0, 0, 0, 0, 0, 0, 0, 0, 0, 0, 0, 0, 0, 0, 0,
          0, 0, 0, 0, 0, 0, 0, 0, 0, 0.5, 1.7, 0.4, 0, 0, 0, 0,
          0, 0, 0, 0, 0, 0, 0, 0, 0, 0, 0, 0, 0, 0, 0, 0,
          0, 1.6, 4.1, 1.4, 0, 0, 0, 0, 0, 0, 0, 0, 0, 0, 0, 0]
p27_rr = [0, 0, 0, 0, 0, 0, 0, 0, 0, 0, 0, 0, 0, 0, 0, 0,
          0, 0, 0, 0, 0, 0, 0, 0, 0, 0, 0, 0, 0, 0, 0, 0,
          0, 0, 0, 0, 0, 0, 0, 0, 0, 0, 0, 0, 0, 0, 0, 0,
          0, 0, 0, 0, 1.5, 7.6, 2.0, 0, 0, 0, 0, 0, 0, 0, 0, 0.6]
p28_rr = [0, 0, 0, 0, 0, 0, 0, 0, 0, 0, 0, 0, 0, 0, 0, 0,
          0, 0, 0, 0, 0, 0, 0, 0, 0, 0, 0, 0, 0, 0, 0, 0,
          0, 0, 0, 0, 0, 0, 0, 0, 0, 0, 0.5, 1.0, 0, 0, 0, 0,
          0, 0, 0, 0, 0, 0, 0, 0, 1.2, 3.8, 1.0, 0, 0, 0, 0, 0]
p29_rr = [0, 0, 0, 0, 0, 0, 0, 0, 0, 0, 0, 0, 0, 0, 0, 0,
          0, 0, 0, 0, 0, 0, 0, 0, 0, 0, 0, 0, 0, 0, 0, 0,
          0, 0, 0, 0, 0, 1.1, 6.5, 2.0, 0.5, 0, 0, 0, 0, 0, 0, 0,
          0, 0, 0, 0, 0.6, 0, 0, 0, 0, 0, 0, 0, 0, 0, 0, 0]
p30_rr = [0, 0, 0, 0, 0.3, 0, 0, 0, 0, 0, 0, 0, 0, 0, 0, 0,
          0, 0, 0, 0, 0, 0, 0, 0, 0, 0, 0, 0, 0, 0, 0, 0,
          0, 0, 0, 0.4, 1.3, 0.5, 0, 0, 0, 0, 0, 0, 0, 0, 0, 0,
          0, 0, 0, 0, 0, 0, 0, 0, 0, 0, 0, 0, 0.7, 1.4, 0, 0]

member_names = ["P%d" % k for k in range(1, 31)]
member_t = [p01_t, p02_t, p03_t, p04_t, p05_t, p06_t, p07_t, p08_t, p09_t, p10_t,
            p11_t, p12_t, p13_t, p14_t, p15_t, p16_t, p17_t, p18_t, p19_t, p20_t,
            p21_t, p22_t, p23_t, p24_t, p25_t, p26_t, p27_t, p28_t, p29_t, p30_t]
member_rr = [p01_rr, p02_rr, p03_rr, p04_rr, p05_rr, p06_rr, p07_rr, p08_rr, p09_rr, p10_rr,
             p11_rr, p12_rr, p13_rr, p14_rr, p15_rr, p16_rr, p17_rr, p18_rr, p19_rr, p20_rr,
             p21_rr, p22_rr, p23_rr, p24_rr, p25_rr, p26_rr, p27_rr, p28_rr, p29_rr, p30_rr]

for nm, s in list(zip(member_names, member_t)) + list(zip(member_names, member_rr)) + [
        ("control_t", control_t), ("oper_t", oper_t), ("ensmean_t", ensmean_t), ("clim_t", clim_t),
        ("control_rr", control_rr), ("oper_rr", oper_rr), ("ensmean_rr", ensmean_rr)]:
    if len(s) != len(hours):
        raise ValueError("series %s has %d values" % (nm, len(s)))

# ---------------- styles / layout ----------------
palette20 = ["#1428d0", "#1450c0", "#1478c0", "#1498c8", "#14a8b4", "#14a890", "#14a064", "#14a848",
             "#14b024", "#14c010", "#b8b400", "#c0a400", "#c09400", "#c08400", "#c07400", "#b86010",
             "#b04818", "#a83818", "#a02818", "#901818"]
member_colors = palette20 + palette20[:10]
CONTROL_C, OPER_C, MEAN_C, CLIM_C = "#0a0aff", "#1ee01e", "#ffffff", "#e8403c"
FONT = "DejaVu Sans"
W, H = 850, 620
TOP_H = 23                            # title strip: page y 0..23
MAIN_BOTTOM = 582                     # main row: page y 23..582, footer below
LEG_W = 120                           # legend strip: page x 0..120
RIGHT_X = 832                         # right strip: page x 832..850
FL, FR, FT, FB = 163, 810, 30, 559    # plot frame edges (page pixels)
MAIN_H = MAIN_BOTTOM - TOP_H
BOT_H = H - MAIN_BOTTOM


def strip(w, h, x_left, y_top, b_top=0, b_bottom=0):
    """A text-only figure; its frame runs from y_top+b_top to y_top+h-b_bottom and
    data units equal page pixels."""
    return figure(width=w, height=h, output_backend="svg", toolbar_location=None, title=None,
                  x_range=Range1d(x_left, x_left + w),
                  y_range=Range1d(y_top + h - b_bottom, y_top + b_top),
                  x_axis_type=None, y_axis_type=None,
                  min_border_left=0, min_border_right=0,
                  min_border_top=b_top, min_border_bottom=b_bottom,
                  background_fill_color="black", border_fill_color="black", outline_line_color=None)


def txt(f, x, y, text, size="11px", color="white", align="left", style="normal", angle=0.0):
    f.text(x=[x], y=[y], text=[text], text_align=align, text_baseline="middle", angle=angle,
           text_font=value(FONT), text_font_size=size, text_color=color, text_font_style=style)


# title strip
top = strip(W, TOP_H, 0, 0)
txt(top, 435, 12, "De Bilt \u00a0(NL) \u00a0850 hPa Temp. & Neerslag | Sun, 09Aug2026 06Z",
    size="16px", align="center", style="bold")

# legend strip (frame aligned with the chart frame: page y 30..559)
leg = strip(LEG_W, MAIN_H, 0, TOP_H, FT - TOP_H, MAIN_BOTTOM - FB)
LEG_FS = "10.5px"
C1_M, C1_T, C2_M, C2_T = 0, 8.5, 51.5, 62


def swatch(x0, y, color):
    leg.segment(x0=[x0], y0=[y], x1=[x0 + 8.5], y1=[y], line_color=color, line_width=2.2)


for k in range(15):
    yy = 39 + 15 * k
    swatch(C1_M, yy, member_colors[2 * k])
    txt(leg, C1_T, yy, member_names[2 * k], size=LEG_FS)
    swatch(C2_M, yy, member_colors[2 * k + 1])
    txt(leg, C2_T, yy, member_names[2 * k + 1], size=LEG_FS)
swatch(C1_M, 265, CONTROL_C)
txt(leg, C1_T, 265, "Control", size=LEG_FS)
swatch(C2_M, 265, MEAN_C)
txt(leg, C2_T, 265, "Ens. mean", size=LEG_FS)
swatch(C2_M, 293, CLIM_C)
txt(leg, C2_T, 293, "1991-2020", size=LEG_FS)
txt(leg, C2_T, 304, "mean", size=LEG_FS)
swatch(C1_M, 305, OPER_C)
txt(leg, C1_T, 305, "Oper", size=LEG_FS)

# right strip with the precipitation axis title
rgt = strip(W - RIGHT_X, MAIN_H, RIGHT_X, TOP_H, FT - TOP_H, MAIN_BOTTOM - FB)
txt(rgt, 840, 288, "Neerslag (mm)", align="center", angle=pi / 2)

# footer strip
bot = strip(W, BOT_H, 0, MAIN_BOTTOM)
txt(bot, 486, 589, "Date (UTC)", align="center")
txt(bot, 120, 598, "GFS Ensemble, 52N, 5E", size="16px", color="#e0e0e0")
txt(bot, 650, 598, "Wetterzentrale.de", size="16px", color="#e0e0e0")

# main chart
p = figure(width=RIGHT_X - LEG_W, height=MAIN_H, output_backend="svg", toolbar_location=None,
           title=None, x_range=Range1d(0, 390), y_range=Range1d(-10, 35),
           min_border_left=FL - LEG_W, min_border_right=RIGHT_X - FR,
           min_border_top=FT - TOP_H, min_border_bottom=MAIN_BOTTOM - FB,
           background_fill_color="black", border_fill_color="black",
           outline_line_color="white", outline_line_width=1)
p.extra_y_ranges = {"rr": Range1d(0, 40)}

xa = p.xaxis[0]
xa.ticker = FixedTicker(ticks=tick_hours)
xa.major_label_overrides = {h: t for h, t in zip(tick_hours, tick_labels)}
xa.major_label_standoff = 7
ya = p.yaxis[0]
ya.ticker = FixedTicker(ticks=temp_ticks)
ya.major_label_overrides = {v: t for v, t in zip(temp_ticks, temp_tick_labels)}
ya.major_label_standoff = 6
ya.axis_label = "850 hPa Temp. (\u00b0C)"
ya.axis_label_standoff = 0
ya.axis_label_text_color = "white"
ya.axis_label_text_font = FONT
ya.axis_label_text_font_size = "11px"
ya.axis_label_text_font_style = "normal"
for ax in (xa, ya):
    ax.axis_line_color = "white"
    ax.major_tick_line_color = None
    ax.minor_tick_line_color = None
    ax.major_tick_out = 0
    ax.major_tick_in = 0
    ax.major_label_text_color = "white"
    ax.major_label_text_font = FONT
    ax.major_label_text_font_size = "11px"

ra = LinearAxis(y_range_name="rr", ticker=SingleIntervalTicker(interval=10, num_minor_ticks=10))
ra.axis_line_color = "white"
ra.major_tick_line_color = "white"
ra.minor_tick_line_color = "white"
ra.major_tick_in = 5
ra.major_tick_out = 0
ra.minor_tick_in = 5
ra.minor_tick_out = 0
ra.major_label_text_color = "white"
ra.major_label_text_font = FONT
ra.major_label_text_font_size = "11px"
ra.major_label_standoff = 5
p.add_layout(ra, "right")

p.xgrid.ticker = FixedTicker(ticks=day_hours)
for g in (p.xgrid, p.ygrid):
    g.grid_line_color = "#3e3e3a"
    g.grid_line_dash = "4 4"
    g.grid_line_width = 1

for s, c in zip(member_t, member_colors):
    p.line(hours, s, line_color=c, line_width=1)
for s, c in zip(member_rr, member_colors):
    p.line(hours, s, line_color=c, line_width=1, y_range_name="rr")

p.line(hours, clim_t, line_color=CLIM_C, line_width=4)
p.line(hours, control_t, line_color=CONTROL_C, line_width=4)
p.line(hours, control_rr, line_color=CONTROL_C, line_width=4, y_range_name="rr")
p.line(hours, oper_t, line_color=OPER_C, line_width=4.5)
p.line(hours, oper_rr, line_color=OPER_C, line_width=3, y_range_name="rr")
p.line(hours, ensmean_t, line_color=MEAN_C, line_width=4)
p.line(hours, ensmean_rr, line_color=MEAN_C, line_width=4, y_range_name="rr")

page = column(top, row(leg, p, rgt), bot)

html = file_html(page, INLINE, title="De Bilt 850 hPa Temp. & Neerslag")
html = html.replace("</head>",
                    "<style>html, body {margin: 0 !important; padding: 0 !important; "
                    "background: #000000;}</style>\n</head>", 1)
open("out.html", "w").write(html)
